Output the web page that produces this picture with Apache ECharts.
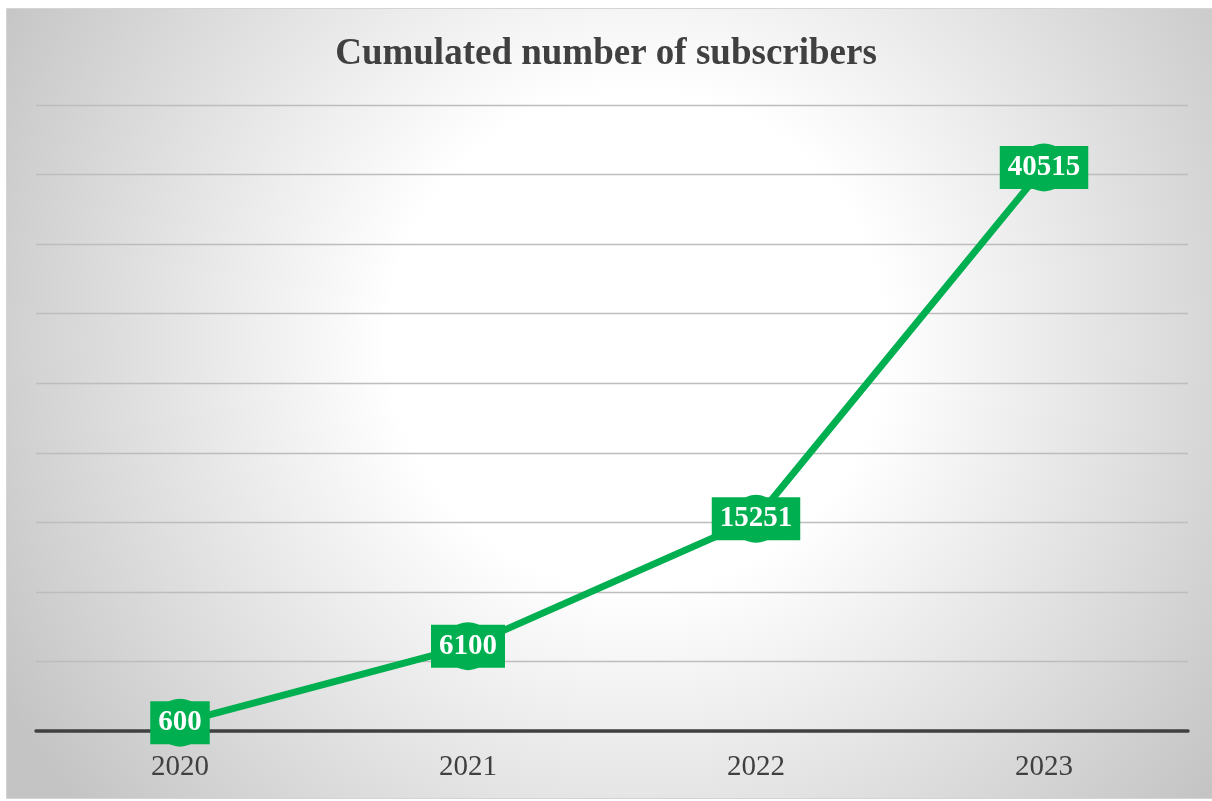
<!DOCTYPE html>
<html>
<head>
<meta charset="utf-8">
<script src="https://cdn.jsdelivr.net/npm/echarts@6/dist/echarts.min.js"></script>
<style>
  html, body { margin: 0; padding: 0; background: #ffffff; }
  #chart { width: 1212px; height: 801px; }
</style>
</head>
<body>
<div id="chart"></div>
<script>
// Yearly cumulated subscriber counts
const years = ['2020', '2021', '2022', '2023'];
const subscribers = [600, 6100, 15251, 40515];
const titleText = 'Cumulated number of subscribers';

const green = '#00b050';
const serif = '"Liberation Serif", "Times New Roman", serif';

const chart = echarts.init(document.getElementById('chart'), null, { renderer: 'canvas' });

chart.setOption({
  animation: false,
  backgroundColor: '#ffffff',
  graphic: [{
    type: 'rect',
    z: -100,
    silent: true,
    shape: { x: 6.5, y: 8.5, width: 1212, height: 790 },
    style: {
      fill: {
        type: 'radial', x: 0.52, y: 0.42, r: 0.92,
        colorStops: [
          { offset: 0, color: '#ffffff' },
          { offset: 0.34, color: '#ffffff' },
          { offset: 1, color: '#c4c4c4' }
        ]
      },
      stroke: '#d4d4d4',
      lineWidth: 1
    }
  }],
  title: {
    text: titleText,
    left: 'center',
    top: 31,
    textStyle: { fontFamily: serif, fontWeight: 'bold', fontSize: 37, color: '#404040' }
  },
  grid: { left: 36, right: 24, top: 105, bottom: 70 },
  xAxis: {
    type: 'category',
    data: years,
    boundaryGap: true,
    axisLine: { lineStyle: { color: '#404040', width: 3.5 } },
    axisTick: { show: false },
    axisLabel: { fontFamily: serif, fontSize: 29, color: '#404040', margin: 22 }
  },
  yAxis: {
    type: 'value',
    min: 0,
    max: 45000,
    interval: 5000,
    axisLabel: { show: false },
    axisLine: { show: false },
    axisTick: { show: false },
    splitLine: { lineStyle: { color: '#bdbdbd', width: 1.3 } }
  },
  series: [{
    type: 'line',
    data: subscribers,
    symbol: 'circle',
    symbolSize: 48,
    itemStyle: { color: green },
    lineStyle: { color: green, width: 7 },
    label: {
      show: true,
      position: 'inside',
      backgroundColor: green,
      color: '#ffffff',
      fontFamily: serif,
      fontWeight: 'bold',
      fontSize: 29,
      lineHeight: 31,
      padding: [8, 8, 4, 8]
    },
    z: 3
  }]
});
</script>
</body>
</html>
